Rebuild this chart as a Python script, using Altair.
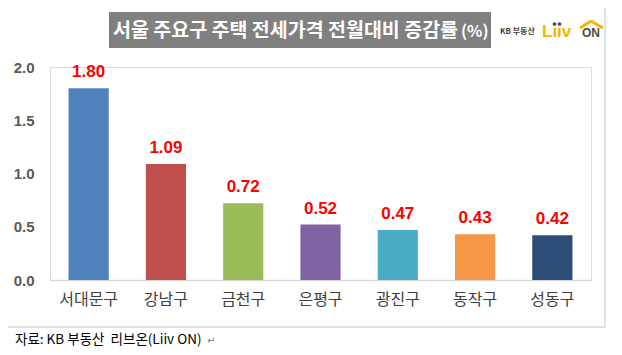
import altair as alt
import pandas as pd

districts = ["서대문구", "강남구", "금천구", "은평구", "광진구", "동작구", "성동구"]
values = [1.80, 1.09, 0.72, 0.52, 0.47, 0.43, 0.42]
colors = ["#4F81BD", "#C0504D", "#9BBB59", "#8064A2", "#4BACC6", "#F79646", "#2C4D75"]
y_ticks = [0.0, 0.5, 1.0, 1.5, 2.0]

title_text = "서울 주요구 주택 전세가격 전월대비 증감률"
title_unit = "(%)"
source_text = "자료: KB 부동산\u00a0\u00a0리브온(Liiv ON)"

df = pd.DataFrame({"district": districts, "value": values, "color": colors})
one = pd.DataFrame({"k": [0]})

W, H = 541, 213
FONT = "Noto Sans CJK KR"
YEL = "#F5B400"

xenc = alt.X("district:N", sort=districts,
             scale=alt.Scale(paddingInner=0.48, paddingOuter=0.24),
             axis=alt.Axis(title=None, labelAngle=0, labelFontSize=16, labelColor="#404040",
                           labelFont=FONT, labelPadding=11, ticks=False,
                           domainColor="#D9D9D9", domainWidth=1.5))
yenc = alt.Y("value:Q", scale=alt.Scale(domain=[0, 2.0], nice=False),
             axis=alt.Axis(title=None, values=y_ticks, format=".1f", grid=False, ticks=False,
                           domain=False, labelFontSize=15, labelFontWeight="bold",
                           labelColor="#595959", labelFont="Liberation Sans", labelPadding=16))

frame = alt.Chart(one).mark_rect(fill="transparent", stroke="#D9D9D9", strokeWidth=1.5).encode(
    x=alt.value(-48), x2=alt.value(555), y=alt.value(-63), y2=alt.value(260))

title_box = alt.Chart(one).mark_rect(fill="#808080").encode(
    x=alt.value(59), x2=alt.value(441), y=alt.value(-55), y2=alt.value(-19))

title_main = alt.Chart(one).mark_text(align="left", baseline="middle", font=FONT,
                                      fontSize=19.5, fontWeight="bold", color="white").encode(
    x=alt.value(63), y=alt.value(-36), text=alt.value(title_text))
title_pct = alt.Chart(one).mark_text(align="left", baseline="middle", font=FONT,
                                     fontSize=16, fontWeight="bold", color="white").encode(
    x=alt.value(411), y=alt.value(-35), text=alt.value(title_unit))

kb = alt.Chart(one).mark_text(align="left", baseline="middle", font=FONT,
                              fontSize=8, fontWeight="bold", color="#404040").encode(
    x=alt.value(450), y=alt.value(-35), text=alt.value("KB 부동산"))
liiv = alt.Chart(one).mark_text(align="left", baseline="alphabetic", font="Liberation Sans",
                                fontSize=17, fontWeight="bold", color=YEL).encode(
    x=alt.value(492), y=alt.value(-30), text=alt.value("Lııv"))
dot1 = alt.Chart(one).mark_circle(color="#4D4D4D", opacity=1, size=14).encode(
    x=alt.value(504.5), y=alt.value(-43))
dot2 = alt.Chart(one).mark_circle(color="#4D4D4D", opacity=1, size=14).encode(
    x=alt.value(509.5), y=alt.value(-43))
on = alt.Chart(one).mark_text(align="left", baseline="alphabetic", font="Liberation Sans",
                              fontSize=12, fontWeight="bold", color="#4D4D4D").encode(
    x=alt.value(532), y=alt.value(-30), text=alt.value("ON"))
roof1 = alt.Chart(one).mark_rule(color=YEL, strokeWidth=3).encode(
    x=alt.value(530), y=alt.value(-39), x2=alt.value(541), y2=alt.value(-46))
roof2 = alt.Chart(one).mark_rule(color=YEL, strokeWidth=3).encode(
    x=alt.value(541), y=alt.value(-46), x2=alt.value(553), y2=alt.value(-39))

bars = alt.Chart(df).mark_bar().encode(
    x=xenc, y=yenc, color=alt.Color("color:N", scale=None))

labels = alt.Chart(df).mark_text(baseline="bottom", dy=-7, font="Liberation Sans",
                                 fontSize=17, fontWeight="bold", color="#FF0000").encode(
    x=alt.X("district:N", sort=districts), y="value:Q", text=alt.Text("value:Q", format=".2f"))

source = alt.Chart(one).mark_text(align="left", baseline="middle", font=FONT,
                                  fontSize=13.5, color="#000000").encode(
    x=alt.value(-35), y=alt.value(273), text=alt.value(source_text))
ret = alt.Chart(one).mark_text(align="left", baseline="middle", font="DejaVu Sans",
                               fontSize=10, color="#7F7F7F").encode(
    x=alt.value(157), y=alt.value(274), text=alt.value("↵"))

chart = alt.layer(frame, title_box, title_main, title_pct, kb, liiv, dot1, dot2, on,
                  roof1, roof2, bars, labels, source, ret).properties(
    width=W, height=H,
    autosize=alt.AutoSizeParams(type="none"),
    padding={"left": 42, "top": 59, "right": 23, "bottom": 67},
).configure_view(stroke=None).configure(background="white")

chart.save("out.html", embed_options={"renderer": "svg", "actions": False})
